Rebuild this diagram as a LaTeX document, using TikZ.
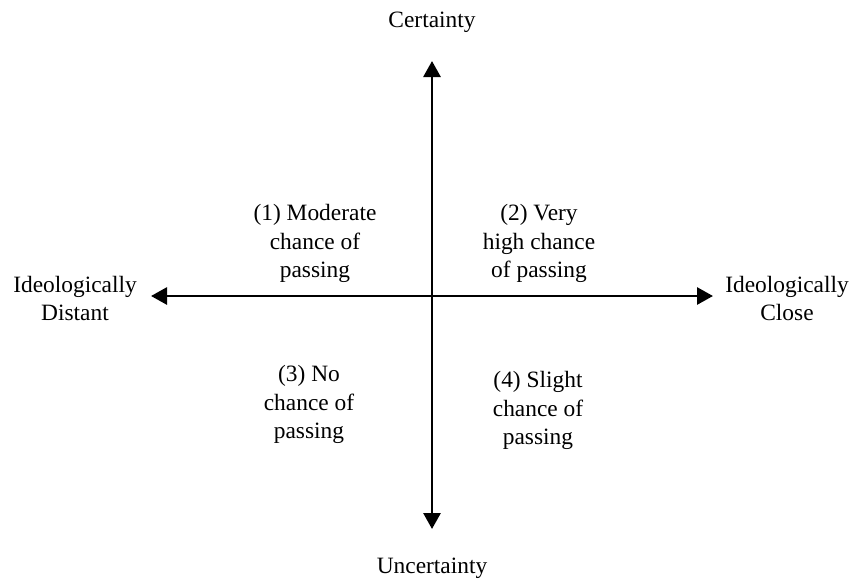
\documentclass[tikz,border=0pt]{standalone}
\usepackage{fontspec}
\setmainfont{Liberation Serif}
\usepackage{tikz}
\usetikzlibrary{arrows.meta}

\begin{document}
\begin{tikzpicture}[x=1pt, y=-1pt,
    lbl/.style={align=center, inner sep=0pt, yshift=-2.5pt, font=\fontsize{23.4}{28.5}\selectfont},
    axis/.style={{Triangle[length=16pt,width=17pt]}-{Triangle[length=16pt,width=17pt]}, line width=2.8pt}]
    \useasboundingbox (0,0) rectangle (854,579);

    % Place the axis end points
    \coordinate (N) at (432,61);
    \coordinate (S) at (432,529);
    \coordinate (W) at (151,296);
    \coordinate (E) at (713,296);

    % Place the axis labels
    \node[lbl] (CERT) at (432,20) {Certainty};
    \node[lbl] (UNC) at (432,566) {Uncertainty};
    \node[lbl] (DIST) at (75,296) {Ideologically\\Distant};
    \node[lbl] (CLOSE) at (787,296) {Ideologically\\Close};

    % Place the quadrant texts
    \node[lbl] (Q1) at (315,241) {(1) Moderate\\chance of\\passing};
    \node[lbl] (Q2) at (539,241) {(2) Very\\high chance\\of passing};
    \node[lbl] (Q3) at (309,402) {(3) No\\chance of\\passing};
    \node[lbl] (Q4) at (538,408) {(4) Slight\\chance of\\passing};

    % Draw the arrows
    \draw[axis] (W) -- (E);
    \draw[axis] (S) -- (N);
\end{tikzpicture}
\end{document}
